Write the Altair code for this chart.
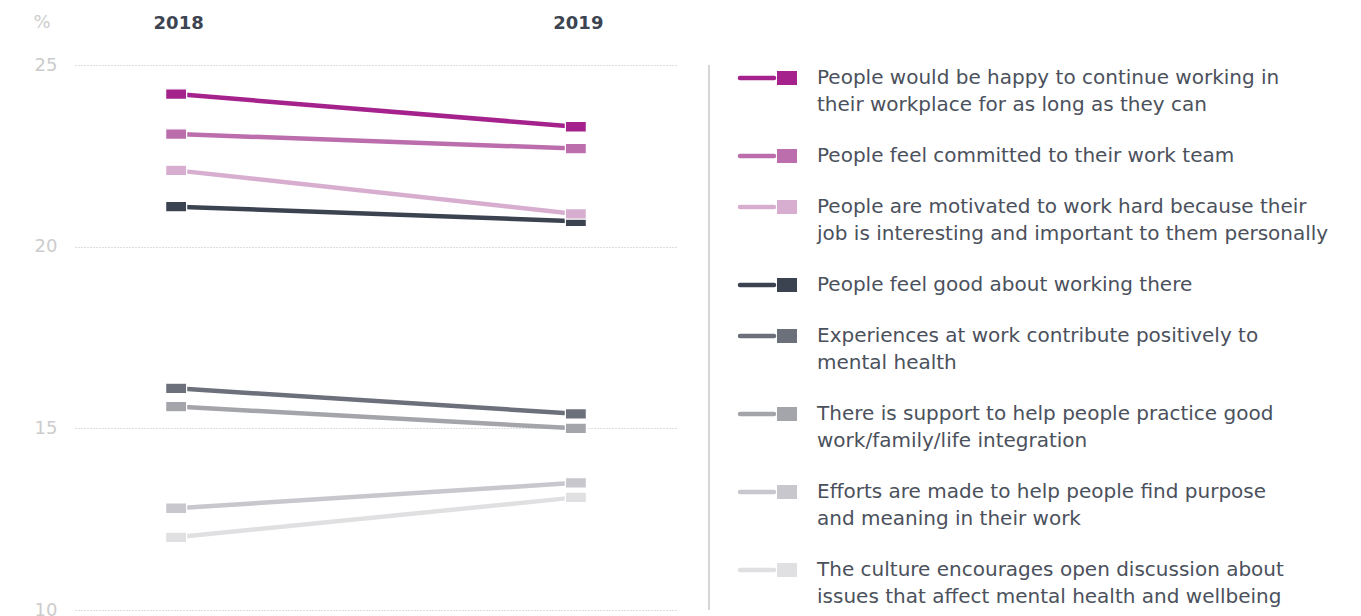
import altair as alt
import pandas as pd

FONT = "DejaVu Sans"

series = [
    "People would be happy to continue working in their workplace for as long as they can",
    "People feel committed to their work team",
    "People are motivated to work hard because their job is interesting and important to them personally",
    "People feel good about working there",
    "Experiences at work contribute positively to mental health",
    "There is support to help people practice good work/family/life integration",
    "Efforts are made to help people find purpose and meaning in their work",
    "The culture encourages open discussion about issues that affect mental health and wellbeing",
]
legend_labels = [
    "People would be happy to continue working in\ntheir workplace for as long as they can",
    "People feel committed to their work team",
    "People are motivated to work hard because their\njob is interesting and important to them personally",
    "People feel good about working there",
    "Experiences at work contribute positively to\nmental health",
    "There is support to help people practice good\nwork/family/life integration",
    "Efforts are made to help people find purpose\nand meaning in their work",
    "The culture encourages open discussion about\nissues that affect mental health and wellbeing",
]
years = ["2018", "2019"]
v2018 = [24.2, 23.1, 22.1, 21.1, 16.1, 15.6, 12.8, 12.0]
v2019 = [23.3, 22.7, 20.9, 20.7, 15.4, 15.0, 13.5, 13.1]
colors = ["#a5228d", "#bb6dac", "#d7aed0", "#3c4350", "#6c707b", "#a3a5ab", "#c7c7cd", "#e0e0e2"]

# long table, reversed so that the first series is drawn on top
rows = []
for i in reversed(range(len(series))):
    for yr, vals in zip(years, [v2018, v2019]):
        rows.append({"series": series[i], "year": yr, "value": vals[i], "idx": i})
df = pd.DataFrame(rows)

color_scale = alt.Scale(domain=series, range=colors)

base = alt.Chart(df).encode(
    x=alt.X(
        "year:O",
        scale=alt.Scale(type="point", padding=0.253),
        axis=alt.Axis(
            orient="top", title=None, labelAngle=0, labelFontSize=18,
            labelFontWeight="bold", labelColor="#3d4451", labelFont=FONT,
            labelPadding=33, labelOffset=2, domain=False, ticks=False,
            grid=False, minExtent=52,
        ),
    ),
    y=alt.Y(
        "value:Q",
        scale=alt.Scale(domain=[10, 25], nice=False, zero=False),
        axis=alt.Axis(
            values=[10, 15, 20, 25], title=None, labelFontSize=18,
            labelColor="#cccccc", labelFont=FONT, labelPadding=18,
            labelFlush=False, domain=False, ticks=False, gridDash=[1, 2],
            gridColor="#bdbdbd", gridWidth=1, minExtent=62,
        ),
    ),
    color=alt.Color("series:N", scale=color_scale, legend=None),
)

lines = base.mark_line(strokeWidth=4.5).encode(detail="series:N")
points = base.mark_point(
    shape="M-1,-0.5L1,-0.5L1,0.5L-1,0.5Z", filled=True, size=441,
    opacity=1, stroke="white", strokeWidth=1.2,
)
pct = alt.Chart(pd.DataFrame({"t": ["%"]})).mark_text(
    fontSize=18, color="#cccccc", font=FONT, align="center", baseline="middle"
).encode(text="t:N", x=alt.value(-33), y=alt.value(-42))

main = alt.layer(lines, points, pct).properties(width=602, height=545)

# legend panel
nlines = [len(s.split("\n")) for s in legend_labels]
pos = []
acc = 0.0
for n in nlines:
    pos.append(acc)
    acc += n + 24 / 27
ldf = pd.DataFrame({"series": series, "label": legend_labels, "pos": pos})

ybase = alt.Y("pos:Q", scale=alt.Scale(domain=[0, 20], range=[13, 13 + 20 * 27]), axis=None)
lbase = alt.Chart(ldf).encode(
    y=ybase, color=alt.Color("series:N", scale=color_scale, legend=None)
)
sym_line = lbase.mark_rule(strokeWidth=4.5, strokeCap="round").encode(
    x=alt.value(40), x2=alt.value(74)
)
sym_sq = lbase.mark_point(
    shape="M-1,-0.7L1,-0.7L1,0.7L-1,0.7Z", filled=True, size=400, opacity=1
).encode(x=alt.value(87))
txt = alt.Chart(ldf).mark_text(
    align="left", baseline="middle", lineBreak="\n", lineHeight=27,
    fontSize=20, color="#4b515c", font=FONT,
).encode(x=alt.value(117), y=ybase, text="label:N")
vrule = alt.Chart(pd.DataFrame({"a": [0]})).mark_rule(
    color="#d6d6d6", strokeWidth=2
).encode(x=alt.value(9), y=alt.value(0), y2=alt.value(545))

legend = alt.layer(vrule, sym_line, sym_sq, txt).properties(width=620, height=545)

chart = alt.hconcat(main, legend, spacing=23).configure_view(stroke=None)

chart.save("out.html", embed_options={"renderer": "svg", "actions": False})
